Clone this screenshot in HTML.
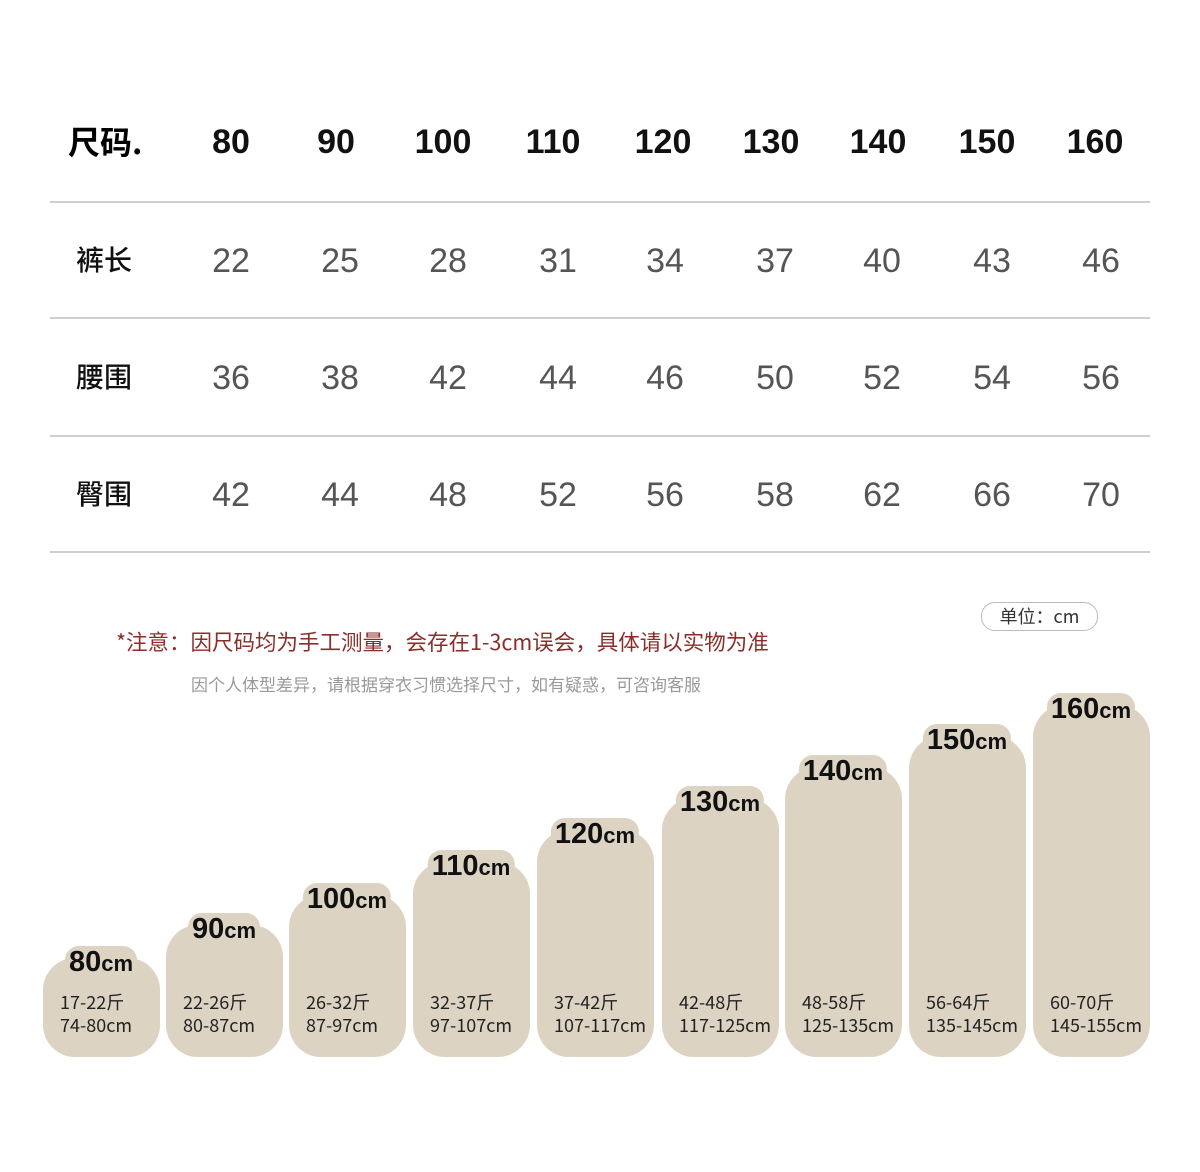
<!DOCTYPE html>
<html><head><meta charset="utf-8"><style>
body{margin:0;width:1200px;height:1172px;background:#fff;position:relative;overflow:hidden;font-family:"Liberation Sans","Noto Sans CJK SC",sans-serif}
.a{position:absolute}
.h{font-weight:bold;font-size:34px;color:#111;transform:translateX(-50%);top:123px}
.v{font-size:34px;color:#555;transform:translateX(-50%)}
.rl{left:76px;font-size:28px;color:#111;font-family:"Noto Sans CJK SC",sans-serif;font-weight:500}
.line{left:50px;width:1100px;height:2px;background:#cfcfcf}
.bar{background:#dcd3c3;border-radius:32px;width:117px;bottom:115px}
.lab{font-weight:bold;font-size:29px;color:#111;background:#dcd3c3;border-radius:14px;padding:0 4px;line-height:32px;white-space:nowrap}
.lab span{font-size:22px}
.sm{font-size:18px;color:#222;line-height:23px;font-family:"Noto Sans CJK SC",sans-serif}
</style></head><body>
<div class="a" style="left:68px;top:118px;font-size:32px;font-weight:bold;font-family:'Noto Sans CJK SC',sans-serif">尺码.</div>
<div class="a h" style="left:231px">80</div><div class="a h" style="left:336px">90</div><div class="a h" style="left:443px">100</div><div class="a h" style="left:553px">110</div><div class="a h" style="left:663px">120</div><div class="a h" style="left:771px">130</div><div class="a h" style="left:878px">140</div><div class="a h" style="left:987px">150</div><div class="a h" style="left:1095px">160</div>
<div class="a line" style="top:201px"></div><div class="a line" style="top:317px"></div><div class="a line" style="top:435px"></div><div class="a line" style="top:551px"></div>
<div class="a rl" style="top:239px">裤长</div><div class="a rl" style="top:356px">腰围</div><div class="a rl" style="top:473px">臀围</div>
<div id="vals"></div>
<div class="a" style="left:116px;top:626px;font-size:21.5px;color:#8b2e2a;font-family:'Noto Sans CJK SC',sans-serif;white-space:nowrap">*注意：因尺码均为手工测量，会存在1-3cm误会，具体请以实物为准</div>
<div class="a" style="left:191px;top:671px;font-size:17px;color:#999;font-family:'Noto Sans CJK SC',sans-serif;white-space:nowrap">因个人体型差异，请根据穿衣习惯选择尺寸，如有疑惑，可咨询客服</div>
<div class="a" style="left:981px;top:602px;width:115px;height:27px;border:1px solid #bbb;border-radius:14px;font-size:18px;color:#333;text-align:center;line-height:27px;font-family:'Noto Sans CJK SC',sans-serif">单位：cm</div>
<div id="bars"></div>
<script>
var cx=[231,340,448,558,665,775,882,992,1101];
var rows=[[22,25,28,31,34,37,40,43,46],[36,38,42,44,46,50,52,54,56],[42,44,48,52,56,58,62,66,70]];
var ty=[242,359,476],h='';
rows.forEach(function(r,i){r.forEach(function(v,j){h+='<div class="a v" style="left:'+cx[j]+'px;top:'+ty[i]+'px">'+v+'</div>';});});
document.getElementById('vals').innerHTML=h;
var bx=[43,166,289,413,537,662,785,909,1033],tops=[958,925,895,862,830,798,767,736,705];
var w=['17-22斤','22-26斤','26-32斤','32-37斤','37-42斤','42-48斤','48-58斤','56-64斤','60-70斤'];
var c=['74-80cm','80-87cm','87-97cm','97-107cm','107-117cm','117-125cm','125-135cm','135-145cm','145-155cm'];
var b='';
for(var i=0;i<9;i++){
b+='<div class="a bar" style="left:'+bx[i]+'px;top:'+tops[i]+'px"></div>';
b+='<div class="a lab" style="left:'+(bx[i]+58)+'px;top:'+(tops[i]-12)+'px;transform:translateX(-50%)">'+(80+i*10)+'<span>cm</span></div>';
b+='<div class="a sm" style="left:'+(bx[i]+17)+'px;top:991px">'+w[i]+'<br>'+c[i]+'</div>';
}
document.getElementById('bars').innerHTML=b;
</script>
</body></html>
